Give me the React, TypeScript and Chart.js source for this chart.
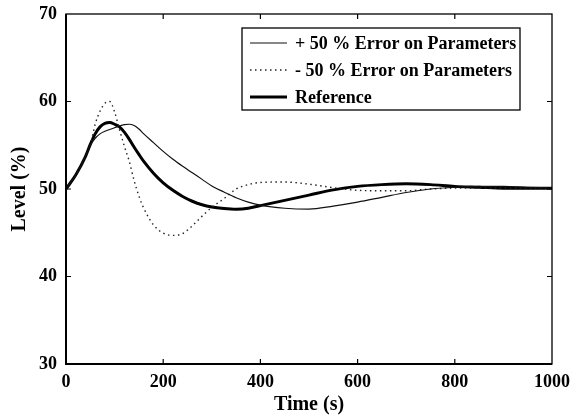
import React, { useEffect, useRef } from "react";
import { Chart, registerables } from "chart.js";

Chart.register(...registerables);

const TIMES = [0, 20, 40, 50, 60, 70, 80, 90, 100, 110, 120, 130, 140, 150, 160, 180, 200, 220, 240, 260, 280, 300, 325, 350, 375, 400, 450, 500, 550, 600, 650, 700, 750, 800, 850, 900, 950, 1000];

const PLUS_50 = [50, 51.6, 53.7, 55.0, 55.8, 56.3, 56.6, 56.8, 57.0, 57.2, 57.35, 57.4, 57.25, 56.85, 56.3, 55.3, 54.3, 53.4, 52.6, 51.85, 51.1, 50.35, 49.65, 49.0, 48.5, 48.15, 47.8, 47.7, 48.05, 48.5, 49.05, 49.6, 50.0, 50.2, 50.3, 50.3, 50.2, 50.1];

const MINUS_50 = [50, 51.6, 53.7, 55.0, 57.4, 58.9, 59.8, 60.0, 58.8, 56.8, 54.9, 53.2, 51.0, 49.2, 47.8, 45.9, 44.95, 44.7, 44.9, 45.8, 46.9, 47.9, 48.9, 50.0, 50.5, 50.75, 50.8, 50.55, 50.15, 49.85, 49.8, 49.8, 50.0, 50.1, 50.1, 50.1, 50.1, 50.1];

const REFERENCE = [50, 51.6, 53.7, 55.1, 56.3, 57.1, 57.5, 57.6, 57.4, 57.1, 56.5, 55.7, 54.8, 53.95, 53.15, 51.8, 50.7, 49.85, 49.15, 48.6, 48.2, 47.95, 47.78, 47.7, 47.8, 48.1, 48.7, 49.3, 49.9, 50.3, 50.5, 50.6, 50.5, 50.3, 50.2, 50.1, 50.1, 50.1];

const SERIES_LABELS = ["+ 50 % Error on Parameters", "- 50 % Error on Parameters", "Reference"];
const X_TITLE = "Time (s)";
const Y_TITLE = "Level (%)";

const FONT = "'Liberation Serif', 'DejaVu Serif', serif";

const toPoints = (vals: number[]) => TIMES.map((t, i) => ({ x: t, y: vals[i] }));

const framePlugin = {
  id: "frame",
  afterDatasetsDraw(chart: any) {
    const { ctx, chartArea, scales } = chart;
    const { left, right, top, bottom } = chartArea;
    const xs = scales.x;
    const ys = scales.y;
    ctx.save();
    ctx.setLineDash([]);
    ctx.strokeStyle = "#000";
    ctx.lineWidth = 1.3;
    ctx.strokeRect(left, top, right - left, bottom - top);
    ctx.lineWidth = 2;
    ctx.beginPath();
    ctx.moveTo(left, top);
    ctx.lineTo(left, bottom);
    ctx.lineTo(right, bottom);
    ctx.stroke();
    const len = 5;
    ctx.lineWidth = 1.2;
    ctx.beginPath();
    xs.ticks.forEach((t: any) => {
      if (t.value <= xs.min || t.value >= xs.max) return;
      const px = xs.getPixelForValue(t.value);
      ctx.moveTo(px, bottom);
      ctx.lineTo(px, bottom - len);
      ctx.moveTo(px, top);
      ctx.lineTo(px, top + len);
    });
    ys.ticks.forEach((t: any) => {
      if (t.value <= ys.min || t.value >= ys.max) return;
      const py = ys.getPixelForValue(t.value);
      ctx.moveTo(left, py);
      ctx.lineTo(left + len, py);
      ctx.moveTo(right, py);
      ctx.lineTo(right - len, py);
    });
    ctx.stroke();
    ctx.restore();
  },
};

const legendPlugin = {
  id: "boxLegend",
  afterDraw(chart: any) {
    const { ctx } = chart;
    const bx = 242;
    const by = 28;
    const bw = 278;
    const bh = 82;
    ctx.save();
    ctx.fillStyle = "#fff";
    ctx.fillRect(bx, by, bw, bh);
    ctx.setLineDash([]);
    ctx.strokeStyle = "#000";
    ctx.lineWidth = 1.3;
    ctx.strokeRect(bx, by, bw, bh);
    chart.data.datasets.forEach((ds: any, i: number) => {
      const yy = by + 15 + i * 27;
      ctx.save();
      ctx.strokeStyle = ds.borderColor;
      ctx.lineWidth = ds.borderWidth;
      ctx.setLineDash(ds.borderDash || []);
      ctx.beginPath();
      ctx.moveTo(bx + 8, yy);
      ctx.lineTo(bx + 45, yy);
      ctx.stroke();
      ctx.restore();
      ctx.fillStyle = "#000";
      ctx.font = `bold 18px ${FONT}`;
      ctx.textAlign = "left";
      ctx.textBaseline = "middle";
      ctx.fillText(ds.label, bx + 53, yy + 1);
    });
    ctx.restore();
  },
};

export default function App() {
  const ref = useRef<HTMLCanvasElement | null>(null);

  useEffect(() => {
    if (!ref.current) return;
    const chart = new Chart(ref.current, {
      type: "line",
      data: {
        datasets: [
          {
            label: SERIES_LABELS[0],
            data: toPoints(PLUS_50),
            borderColor: "#111",
            borderWidth: 1.2,
            pointRadius: 0,
            fill: false,
            cubicInterpolationMode: "monotone",
          },
          {
            label: SERIES_LABELS[1],
            data: toPoints(MINUS_50),
            borderColor: "#222",
            borderWidth: 1.4,
            borderDash: [1.5, 3.5],
            pointRadius: 0,
            fill: false,
            cubicInterpolationMode: "monotone",
          },
          {
            label: SERIES_LABELS[2],
            data: toPoints(REFERENCE),
            borderColor: "#000",
            borderWidth: 3,
            pointRadius: 0,
            fill: false,
            cubicInterpolationMode: "monotone",
          },
        ],
      },
      options: {
        animation: false,
        responsive: false,
        devicePixelRatio: 1,
        layout: { padding: { left: 0, right: 29, top: 14, bottom: 0 } },
        plugins: {
          legend: { display: false },
          tooltip: { enabled: false },
        },
        scales: {
          x: {
            type: "linear",
            min: 0,
            max: 1000,
            grid: { display: false, drawTicks: false },
            border: { display: false },
            ticks: {
              stepSize: 200,
              maxRotation: 0,
              padding: 8,
              color: "#000",
              font: { family: FONT, size: 18, weight: "bold" },
              callback: (v: any) => String(v),
            },
            title: {
              display: true,
              text: X_TITLE,
              color: "#000",
              font: { family: FONT, size: 20, weight: "bold" },
              padding: { top: 0, bottom: 1 },
            },
            afterFit(scale: any) {
              scale.height = 54;
              scale.paddingLeft = 0;
              scale.paddingRight = 0;
            },
          },
          y: {
            type: "linear",
            min: 30,
            max: 70,
            grid: { display: false, drawTicks: false },
            border: { display: false },
            ticks: {
              stepSize: 10,
              padding: 9,
              color: "#000",
              font: { family: FONT, size: 18, weight: "bold" },
              callback: (v: any) => String(v),
            },
            title: {
              display: true,
              text: Y_TITLE,
              color: "#000",
              font: { family: FONT, size: 20, weight: "bold" },
              padding: { top: 8, bottom: 0 },
            },
            afterFit(scale: any) {
              scale.width = 66;
              scale.paddingTop = 0;
              scale.paddingBottom = 0;
            },
          },
        },
      },
      plugins: [framePlugin, legendPlugin],
    } as any);
    return () => chart.destroy();
  }, []);

  return (
    <div style={{ position: "absolute", left: 0, top: 0, width: 581, height: 418, background: "#fff" }}>
      <canvas ref={ref} width={581} height={418} style={{ display: "block" }} />
    </div>
  );
}
